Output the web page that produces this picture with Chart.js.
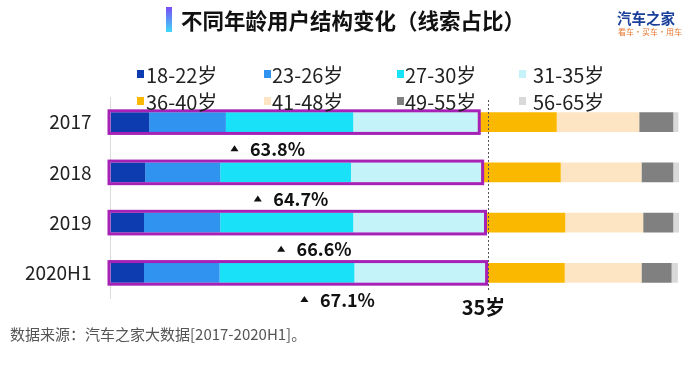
<!DOCTYPE html>
<html>
<head>
<meta charset="utf-8">
<script src="https://cdn.jsdelivr.net/npm/chart.js@4.4.1/dist/chart.umd.min.js"></script>
<style>
    body { margin: 0; background: #fff; font-family: "Noto Sans CJK SC", "Noto Sans", sans-serif; }
    #wrap { position: relative; width: 700px; height: 366px; overflow: hidden; }
    #chart { position: absolute; left: 0; top: 0; }
    .icon { position: absolute; left: 166px; top: 7px; width: 6px; height: 25px; background: linear-gradient(#7a4cf5, #3fd9f7); }
    .title { position: absolute; left: 181px; top: 5px; font-size: 21.5px; font-weight: bold; color: #111; line-height: 30px; white-space: nowrap; }
    .logo { position: absolute; left: 617px; top: 9px; font-size: 14.5px; font-weight: bold; color: #1a3f9a; line-height: 18px; white-space: nowrap; }
    .logo-sub { position: absolute; left: 618px; top: 27px; font-size: 8px; color: #e8772e; line-height: 10px; white-space: nowrap; }
    .source { position: absolute; left: 10px; top: 323px; font-size: 15px; color: #555; line-height: 22px; white-space: nowrap; }
</style>
</head>
<body>
<div id="wrap">
    <canvas id="chart" width="700" height="366"></canvas>
    <div class="icon"></div>
    <div class="title">不同年龄用户结构变化（线索占比）</div>
    <div class="logo">汽车之家</div>
    <div class="logo-sub">看车·买车·用车</div>
    <div class="source">数据来源：汽车之家大数据[2017-2020H1]。</div>
</div>
<script>
const years = ["2017", "2018", "2019", "2020H1"];
const ageGroups = ["18-22岁", "23-26岁", "27-30岁", "31-35岁", "36-40岁", "41-48岁", "49-55岁", "56-65岁"];
const colors = ["#0d3bb0", "#2f93ef", "#19e2f8", "#c4f4f9", "#fbb800", "#fde5c3", "#808080", "#d9d9d9"];

// share of each age group per year (%)
const age18_22 = [6.8, 6.1, 5.9, 5.9];
const age23_26 = [13.5, 13.2, 13.4, 13.3];
const age27_30 = [22.4, 23.0, 23.4, 23.7];
const age31_35 = [21.9, 22.9, 23.0, 23.0];
const age36_40 = [13.9, 14.0, 14.3, 14.0];
const age41_48 = [14.5, 14.2, 13.7, 13.5];
const age49_55 = [6.0, 5.6, 5.3, 5.3];
const age56_65 = [0.9, 1.0, 1.0, 1.1];
const seriesValues = [age18_22, age23_26, age27_30, age31_35, age36_40, age41_48, age49_55, age56_65];

// under-35 share shown under each bar
const under35Labels = ["63.8%", "64.7%", "66.6%", "67.1%"];
const ageMark = "35岁";

const FONT = '"Noto Sans CJK SC", "Noto Sans", sans-serif';

// legend laid out as a 4 x 2 grid
const legendSquareX = [137, 264, 397, 519];
const legendTextX = [146, 272, 405, 533];
const legendRowY = [74, 101];

const legendPlugin = {
    id: "gridLegend",
    afterDraw(chart) {
        const ctx = chart.ctx;
        ctx.save();
        ctx.font = "20px " + FONT;
        ctx.textBaseline = "middle";
        ctx.textAlign = "left";
        chart.data.datasets.forEach((ds, i) => {
            const col = i % 4;
            const row = Math.floor(i / 4);
            const y = legendRowY[row];
            ctx.fillStyle = ds.backgroundColor;
            ctx.fillRect(legendSquareX[col], y - 4, 7, 8);
            ctx.fillStyle = "#222";
            ctx.fillText(ds.label, legendTextX[col], y + 1);
        });
        ctx.restore();
    }
};

const markPlugin = {
    id: "under35",
    afterDatasetsDraw(chart) {
        const ctx = chart.ctx;
        const area = chart.chartArea;
        const m0 = chart.getDatasetMeta(0);
        const m3 = chart.getDatasetMeta(3);
        ctx.save();

        // purple outline around 18-35
        ctx.strokeStyle = "#a622b6";
        ctx.lineWidth = 3;
        m3.data.forEach((bar, i) => {
            const left = m0.data[i].base;
            const top = bar.y - bar.height / 2;
            ctx.strokeRect(left - 1.5, top - 1.5, bar.x - left + 3, bar.height + 3);
        });

        // dashed 35 line
        const lineX = Math.round(Math.max(...m3.data.map(b => b.x)) + 3) + 0.5;
        ctx.strokeStyle = "#555";
        ctx.lineWidth = 1;
        ctx.setLineDash([2, 2]);
        ctx.beginPath();
        ctx.moveTo(lineX, area.top + 3);
        ctx.lineTo(lineX, area.bottom - 6);
        ctx.stroke();
        ctx.setLineDash([]);

        ctx.fillStyle = "#111";
        ctx.font = "bold 20px " + FONT;
        ctx.textAlign = "center";
        ctx.textBaseline = "middle";
        ctx.fillText(ageMark, lineX - 5, area.bottom + 9);

        // growth labels
        ctx.font = "bold 18px " + FONT;
        ctx.textAlign = "left";
        m3.data.forEach((bar, i) => {
            const y = bar.y + 26;
            const cx = area.left + 124 + i * 23.3;
            ctx.beginPath();
            ctx.moveTo(cx - 4, y + 3);
            ctx.lineTo(cx + 4, y + 3);
            ctx.lineTo(cx, y - 3);
            ctx.closePath();
            ctx.fill();
            ctx.fillText(under35Labels[i], cx + 15.5, y + 1);
        });
        ctx.restore();
    }
};

new Chart(document.getElementById("chart"), {
    type: "bar",
    data: {
        labels: years,
        datasets: ageGroups.map((g, i) => ({
            label: g,
            data: seriesValues[i],
            backgroundColor: colors[i],
            borderWidth: 0,
            barPercentage: 0.39,
            categoryPercentage: 1
        }))
    },
    options: {
        indexAxis: "y",
        responsive: false,
        animation: false,
        layout: { padding: { left: 0, right: 21, top: 97, bottom: 68 } },
        plugins: {
            legend: { display: false },
            tooltip: { enabled: false }
        },
        scales: {
            x: { stacked: true, min: 0, max: 100, display: false },
            y: {
                stacked: true,
                grid: { display: false, drawTicks: false },
                border: { display: true, color: "#dcdcdc" },
                ticks: { padding: 19, color: "#222", font: { family: FONT, size: 19 } },
                afterFit(scale) { scale.width = 110.5; }
            }
        }
    },
    plugins: [legendPlugin, markPlugin]
});
</script>
</body>
</html>
